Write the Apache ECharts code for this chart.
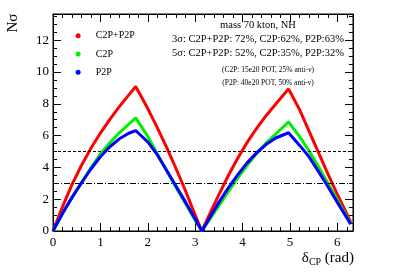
<!DOCTYPE html>
<html>
<head>
<meta charset="utf-8">
<script src="https://cdn.jsdelivr.net/npm/echarts@6/dist/echarts.min.js"></script>
<style>html,body{margin:0;padding:0;background:#fff}#c{width:407px;height:276px}</style>
</head>
<body>
<div id="c"></div>
<script>
// delta_CP values (rad)
var deltaCP = [0,0.2,0.4,0.6,0.8,1.0,1.2,1.4,1.6,1.745,2.0,2.2,2.4,2.6,2.8,3.0,3.1416,3.3,3.5,3.7,3.9,4.1,4.3,4.5,4.7,4.97,5.2,5.4,5.6,5.8,6.0,6.2832];
// N sigma for each configuration
var sigC2PP2P = [0,1.52,2.92,4.12,5.2,6.16,7.02,7.82,8.56,9.09,7.7,6.5,5.25,3.9,2.5,1.0,0,1.03,2.29,3.49,4.59,5.59,6.47,7.27,7.99,8.94,7.65,6.3,4.95,3.6,2.3,0.55];
var sigC2P = [0,1.1,2.12,3.05,3.97,4.85,5.55,6.18,6.72,7.12,5.95,4.85,3.78,2.72,1.7,0.68,0,0.7,1.6,2.48,3.35,4.15,4.88,5.55,6.1,6.86,5.95,5.05,4.05,3.0,1.95,0.45];
var sigP2P = [0,1.1,2.1,3.02,3.9,4.67,5.3,5.8,6.15,6.32,5.6,4.8,3.8,2.8,1.8,0.75,0,0.8,1.8,2.72,3.55,4.3,4.93,5.45,5.85,6.18,5.4,4.68,3.75,2.8,1.8,0.42];
var seriesNames = ['C2P+P2P','C2P','P2P'];
var seriesColors = ['#ff0000','#00ee00','#0000ff'];
var refLevels = [5, 3];
var annotLines = ['mass 70 kton, NH','3σ: C2P+P2P: 72%, C2P:62%, P2P:63%','5σ: C2P+P2P: 52%, C2P:35%, P2P:32%'];
var noteLines = ['(C2P: 15e20 POT, 25% anti-ν)','(P2P: 40e20 POT, 50% anti-ν)'];

var SERIF = '"Liberation Serif","DejaVu Serif",serif';
function pairs(ys){ return deltaCP.map(function(x,i){ return [x, ys[i]]; }); }
var allY = [sigC2PP2P, sigC2P, sigP2P];

var series = allY.map(function(ys, i){
  var s = {
    name: seriesNames[i], type: 'line', data: pairs(ys),
    showSymbol: false, symbol: 'circle', smooth: false,
    lineStyle: { color: seriesColors[i], width: 3 },
    itemStyle: { color: seriesColors[i] },
    z: 3 + i, animation: false
  };
  if (i === 0) {
    s.markLine = {
      silent: true, symbol: 'none', animation: false,
      label: { show: false },
      data: [
        { yAxis: refLevels[0], lineStyle: { color: '#000', width: 1, type: [3, 2] } },
        { yAxis: refLevels[1], lineStyle: { color: '#000', width: 1, type: [6, 2, 1, 2] } }
      ]
    };
  }
  return s;
});

function xAx(pos, showLabel){
  return {
    type: 'value', position: pos, min: 0, max: 6.33, interval: 1,
    axisLine: { show: true, onZero: false, lineStyle: { color: '#000', width: 1 } },
    axisTick: { show: true, inside: true, length: 8, lineStyle: { color: '#000' } },
    minorTick: { show: true, splitNumber: 5, length: 4, lineStyle: { color: '#000' } },
    splitLine: { show: false },
    axisLabel: { show: showLabel, showMaxLabel: false, margin: 5, color: '#000', fontSize: 13, fontFamily: SERIF }
  };
}
function yAx(pos, showLabel){
  return {
    type: 'value', position: pos, min: 0, max: 13.65, interval: 2,
    axisLine: { show: true, onZero: false, lineStyle: { color: '#000', width: 1 } },
    axisTick: { show: true, inside: true, length: 8, lineStyle: { color: '#000' } },
    minorTick: { show: true, splitNumber: 4, length: 4, lineStyle: { color: '#000' } },
    splitLine: { show: false },
    axisLabel: { show: showLabel, showMaxLabel: false, margin: 4, color: '#000', fontSize: 13, fontFamily: SERIF }
  };
}

var graphics = [
  { type: 'text', x: 13, y: 23, rotation: Math.PI/2,
    style: { text: 'Nσ', fontSize: 15, fontFamily: SERIF, fill: '#000', align: 'center', verticalAlign: 'middle' } },
  { type: 'text', x: 354, y: 258,
    style: { text: '{a|δ}{b|CP}{a| (rad)}', align: 'right', verticalAlign: 'middle', fill: '#000',
      rich: { a: { fontSize: 15, fontFamily: SERIF, lineHeight: 18 },
              b: { fontSize: 10, fontFamily: SERIF, lineHeight: 18, padding: [8, 0, 0, 0] } } } }
];
var annY = [25, 39.3, 53.3];
annotLines.forEach(function(t, i){
  graphics.push({ type: 'text', x: 258, y: annY[i],
    style: { text: t, fontSize: 10.5, fontFamily: SERIF, fill: '#000', align: 'center', verticalAlign: 'middle' } });
});
var noteY = [70, 82.7];
noteLines.forEach(function(t, i){
  graphics.push({ type: 'text', x: 268, y: noteY[i],
    style: { text: t, fontSize: 7.5, fontFamily: SERIF, fill: '#000', align: 'center', verticalAlign: 'middle' } });
});

var chart = echarts.init(document.getElementById('c'), null, { renderer: 'canvas' });
chart.setOption({
  animation: false,
  backgroundColor: '#fff',
  grid: { left: 53, right: 54, top: 14, bottom: 45, show: true, borderColor: '#000', borderWidth: 1, backgroundColor: 'transparent' },
  xAxis: [xAx('bottom', true), xAx('top', false)],
  yAxis: [yAx('left', true), yAx('right', false)],
  legend: {
    data: seriesNames.map(function(n){ return { name: n, icon: 'circle' }; }),
    orient: 'vertical', left: 70.6, top: 24.7,
    itemWidth: 25.4, itemHeight: 5, itemGap: 6.3,
    textStyle: { fontSize: 10, fontFamily: SERIF, color: '#000', lineHeight: 12 },
    selectedMode: false
  },
  series: series,
  graphic: graphics
});
</script>
</body>
</html>
